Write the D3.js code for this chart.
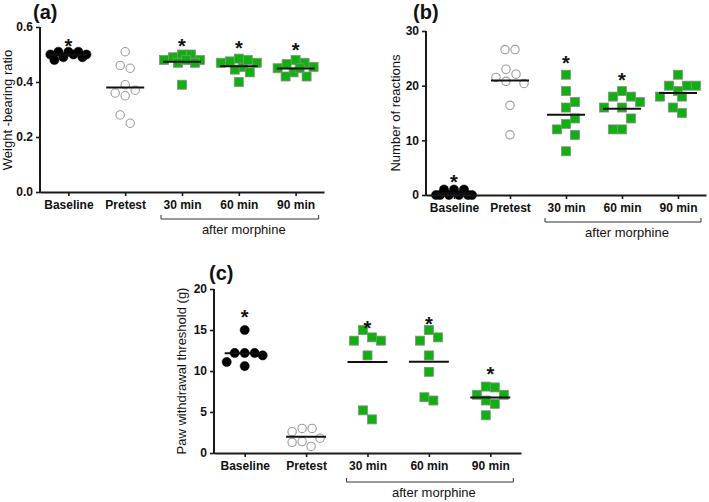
<!DOCTYPE html>
<html>
<head>
  <meta charset='utf-8'>
  <title>Morphine_panels</title>
  <style type='text/css'>
body{ margin:0; background:#fff; }
svg text{ font-family:'Liberation Sans', Arial, sans-serif; fill:#111; }
  </style>
</head>
<body>
<div id='chart'></div>

<script src='https://d3js.org/d3.v7.min.js'></script>
<script type='text/javascript'>

// categories (x axis)
var groups = ['Baseline', 'Pretest', '30 min', '60 min', '90 min'];

// (a) weight-bearing ratio
var wbBaseline = [0.51, 0.51, 0.50, 0.49, 0.48, 0.49, 0.50, 0.51, 0.50];
var wbPretest  = [0.51, 0.45, 0.46, 0.39, 0.36, 0.35, 0.37, 0.28, 0.25];
var wb30       = [0.50, 0.50, 0.49, 0.48, 0.48, 0.47, 0.48, 0.47, 0.39];
var wb60       = [0.475, 0.47, 0.455, 0.445, 0.435, 0.47, 0.48, 0.485, 0.40];
var wb90       = [0.48, 0.465, 0.45, 0.435, 0.42, 0.42, 0.47, 0.455, 0.45];
var wbStars    = [0.547, null, 0.547, 0.537, 0.531];
var wbTicks    = [0, 0.2, 0.4, 0.6];

// (b) number of reactions
var nrBaseline = [1, 1, 0, 0, 0, 0, 0, 0, 1];
var nrPretest  = [26.6, 26.6, 23, 21.5, 22.1, 20.4, 20.8, 16.4, 11];
var nr30       = [22, 19, 17, 16, 14, 13, 12, 11, 8];
var nr60       = [18, 19, 18, 17, 16, 16, 14, 12, 12];
var nr90       = [22, 20, 20, 20, 19, 18, 18, 16, 15];
var nrStars    = [3.1, null, 24.9, 21.8, null];
var nrTicks    = [0, 10, 20, 30];

// (c) paw withdrawal threshold (g)
var pwBaseline = [15.0, 12.2, 11.9, 12.2, 12.2, 10.6, 11.1];
var pwPretest  = [3.0, 2.6, 3.0, 1.4, 0.8, 1.3, 1.8];
var pw30       = [14.1, 13.7, 13.7, 15.0, 11.9, 5.2, 4.1];
var pw60       = [14.1, 13.7, 15.0, 11.9, 9.9, 6.8, 6.4];
var pw90       = [8.0, 8.1, 7.1, 7.1, 6.4, 6.0, 4.6];
var pwStars    = [17.1, null, 15.7, 16.2, 10.1];
var pwTicks    = [0, 5, 10, 15, 20];

// marker type per group
var markers = ['dot', 'ring', 'square', 'square', 'square'];

var svg = d3.select('#chart').append('svg')
    .attr('width', 709)
    .attr('height', 502);

// column scatter: points whose values are close get pushed sideways
// (dxMin = horizontal gap wanted, dyMin = vertical reach of a collision)
function swarm(values, y, dxMin, dyMin, maxW) {
  var placed = [];
  var off = [];
  var ys = values.map(function (v) { return y(v); });
  var order = values.map(function (v, i) { return i; })
                    .sort(function (a, b) { return values[b] - values[a]; });
  order.forEach(function (i) {
    var best = 0, bestScore = -1;
    for (var k = 0; k <= 2 * maxW; k++) {
      var cand = (k % 2 ? 1 : -1) * Math.ceil(k / 2);
      var m = Infinity;
      placed.forEach(function (j) {
        if (Math.abs(ys[j] - ys[i]) >= dyMin) return;
        var d = Math.abs(off[j] - cand);
        if (d < m) m = d;
      });
      if (m >= dxMin) { best = cand; break; }
      if (m > bestScore) { bestScore = m; best = cand; }
    }
    placed.push(i);
    off[i] = best;
  });

  // centre every run of touching points on the column
  var comp = values.map(function (v, i) { return i; });
  function find(a) { while (comp[a] != a) a = comp[a]; return a; }
  for (var a = 0; a < values.length; a++)
    for (var b = a + 1; b < values.length; b++)
      if (Math.abs(ys[a] - ys[b]) < dyMin) comp[find(a)] = find(b);
  var ext = {};
  values.forEach(function (v, i) {
    var r = find(i);
    if (!ext[r]) ext[r] = [Infinity, -Infinity];
    ext[r][0] = Math.min(ext[r][0], off[i]);
    ext[r][1] = Math.max(ext[r][1], off[i]);
  });
  return off.map(function (o, i) {
    var e = ext[find(i)];
    return o - (e[0] + e[1]) / 2;
  });
}

function drawPanel(p) {
  var g = svg.append('g');

  var x = d3.scalePoint().domain(groups).range(p.xRange).padding(0.5);
  var y = d3.scaleLinear().domain([0, p.ticks[p.ticks.length - 1]]).range(p.yRange);

  // points
  p.series.forEach(function (vals, gi) {
    var type = markers[gi];
    var cx = x(groups[gi]);
    var off = swarm(vals, y, type == 'square' ? 9 : 9.5, type == 'square' ? 12 : 10, 18);
    var pts = g.append('g');
    if (type == 'square') {
      pts.selectAll('rect').data(vals).enter().append('rect')
        .attr('x', function (d, i) { return cx + off[i] - 4.5; })
        .attr('y', function (d) { return y(d) - 4.5; })
        .attr('width', 9).attr('height', 9)
        .style('fill', '#0cb30c')
        .style('stroke', '#8a8a8a')
        .style('stroke-width', 0.8);
    } else {
      pts.selectAll('circle').data(vals).enter().append('circle')
        .attr('cx', function (d, i) { return cx + off[i]; })
        .attr('cy', function (d) { return y(d); })
        .attr('r', type == 'dot' ? 4.6 : 4.2)
        .style('fill', type == 'dot' ? '#000' : '#fff')
        .style('stroke', type == 'dot' ? '#000' : '#9a9a9a')
        .style('stroke-width', type == 'dot' ? 0.5 : 1.1);
    }
    // mean line
    var m = d3.mean(vals);
    g.append('line')
      .attr('x1', cx - p.meanW).attr('x2', cx + p.meanW)
      .attr('y1', y(m)).attr('y2', y(m))
      .style('stroke', '#111')
      .style('stroke-width', 2);
    // significance star
    if (p.stars[gi] != null) {
      g.append('text')
        .attr('x', cx)
        .attr('y', y(p.stars[gi]) + 11)
        .style('text-anchor', 'middle')
        .style('font-size', '20px')
        .style('font-weight', 'bold')
        .text('*');
    }
  });

  // axes
  var yAxis = d3.axisLeft(y).tickValues(p.ticks).tickSize(4).tickSizeOuter(0).tickPadding(3);
  if (p.fmt) yAxis.tickFormat(d3.format(p.fmt));
  var ya = g.append('g').attr('transform', 'translate(' + p.xRange[0] + ',0)').call(yAxis);

  var xAxis = d3.axisBottom(x).tickSize(4).tickSizeOuter(0).tickPadding(4);
  var xa = g.append('g').attr('transform', 'translate(0,' + p.yRange[0] + ')').call(xAxis);

  [ya, xa].forEach(function (a) {
    a.select('.domain').style('stroke', '#1a1a1a').style('stroke-width', 2);
    a.selectAll('.tick line').style('stroke', '#1a1a1a').style('stroke-width', 1.6);
    a.selectAll('.tick text')
      .style('font-size', '12px')
      .style('font-weight', 'bold')
      .style('fill', '#111');
  });
  // y axis line runs up to the top tick
  ya.select('.domain').attr('d', 'M0,' + p.yRange[1] + 'V' + (p.yRange[0] + 1));

  // bracket under the after-morphine groups
  var bx1 = x('30 min') - 21, bx2 = x('90 min') + 23, by = p.bracketY;
  g.append('path')
    .attr('d', 'M' + bx1 + ',' + (by - 4) + 'V' + by + 'H' + bx2 + 'V' + (by - 4))
    .style('fill', 'none')
    .style('stroke', '#333')
    .style('stroke-width', 1);
  g.append('text')
    .attr('x', x('60 min') + 5)
    .attr('y', by + 15)
    .style('text-anchor', 'middle')
    .style('font-size', '13px')
    .text('after morphine');

  // y title
  g.append('text')
    .attr('transform', 'translate(' + p.titleX + ',' + p.titleY + ') rotate(-90)')
    .style('text-anchor', 'middle')
    .style('font-size', '13px')
    .text(p.yTitle);

  // panel letter
  g.append('text')
    .attr('x', p.letter[0])
    .attr('y', p.letter[1])
    .style('font-size', '20px')
    .style('font-weight', 'bold')
    .text(p.label);
}

drawPanel({
  series: [wbBaseline, wbPretest, wb30, wb60, wb90],
  stars: wbStars, ticks: wbTicks, fmt: '.1f',
  xRange: [40, 324], yRange: [192, 27], meanW: 19,
  bracketY: 219, yTitle: 'Weight -bearing ratio', titleX: 12, titleY: 110,
  label: '(a)', letter: [33, 19]
});

drawPanel({
  series: [nrBaseline, nrPretest, nr30, nr60, nr90],
  stars: nrStars, ticks: nrTicks,
  xRange: [426, 706], yRange: [195, 31], meanW: 19,
  bracketY: 222, yTitle: 'Number of reactions', titleX: 400, titleY: 113,
  label: '(b)', letter: [413, 19]
});

drawPanel({
  series: [pwBaseline, pwPretest, pw30, pw60, pw90],
  stars: pwStars, ticks: pwTicks,
  xRange: [214, 521], yRange: [453, 289], meanW: 20,
  bracketY: 482, yTitle: 'Paw withdrawal threshold (g)', titleX: 186, titleY: 371,
  label: '(c)', letter: [209, 280]
});

</script>
</body>
</html>
